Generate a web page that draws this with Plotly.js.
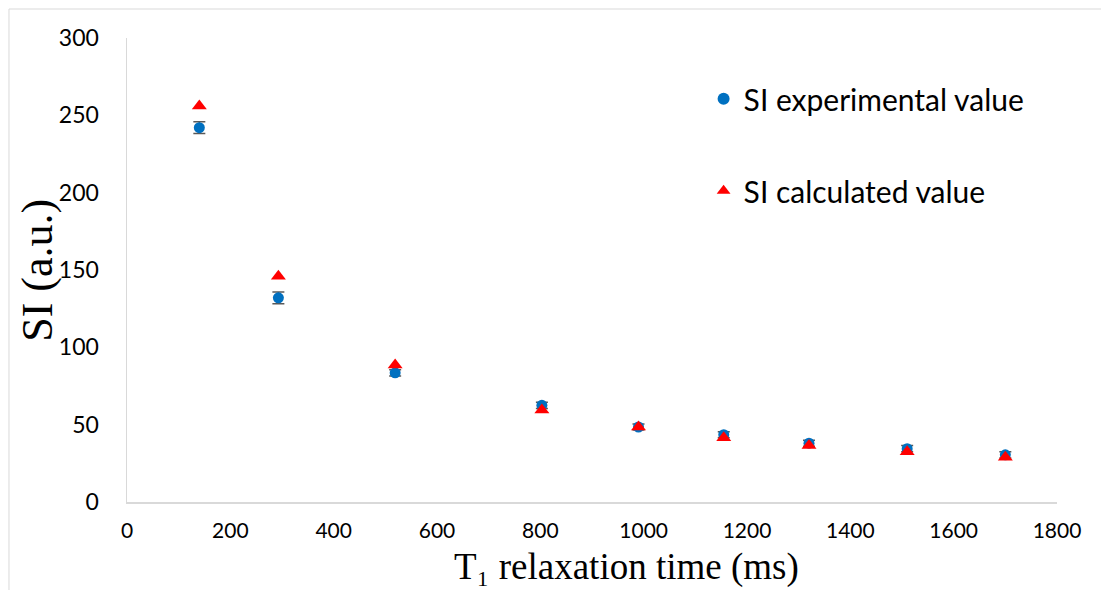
<!DOCTYPE html>
<html>
<head>
<meta charset="utf-8">
<script src="https://cdn.plot.ly/plotly-3.0.1.min.js"></script>
<style>html,body{margin:0;padding:0;background:#fff;}#chart{width:1101px;height:590px;}</style>
</head>
<body>
<div id="chart"></div>
<script>
// T1 relaxation time (ms)
var t1Values = [140, 293, 519, 803, 990, 1155, 1320, 1510, 1700];
// SI experimental value (a.u.)
var siExperimental = [242, 132, 83.5, 62.5, 48.5, 43.5, 38, 34.5, 30.5];
var siExperimentalErr = [3.8, 3.8, 2, 2, 2, 2, 2, 2, 2];
// SI calculated value (a.u.)
var siCalculated = [256, 146, 88.5, 59.5, 48.5, 41.5, 36.5, 32.5, 29];
var xTicks = [0, 200, 400, 600, 800, 1000, 1200, 1400, 1600, 1800];
var yTicks = [0, 50, 100, 150, 200, 250, 300];
var xTitle = 'T\u2081 relaxation time (ms)';
var yTitle = 'SI (a.u.)';

var traces = [
  {
    x: t1Values, y: siExperimental, type: 'scatter', mode: 'markers',
    name: 'SI experimental value', legendgroup: 'a',
    marker: {symbol: 'circle', size: 11, color: '#0070C0'},
    error_y: {type: 'data', array: siExperimentalErr, visible: true, color: '#595959', thickness: 1.5, width: 6}
  },
  {
    x: t1Values, y: siCalculated, type: 'scatter', mode: 'markers',
    name: 'SI calculated value', legendgroup: 'b',
    marker: {symbol: 'triangle-up', size: 13, color: '#FF0000'}
  }
];

var layout = {
  width: 1101, height: 590,
  margin: {l: 127, r: 44, t: 38, b: 88},
  paper_bgcolor: '#ffffff', plot_bgcolor: '#ffffff',
  showlegend: true,
  legend: {
    x: 0.62, y: 0.925, xanchor: 'left', yanchor: 'top',
    font: {family: 'Lato, sans-serif', size: 30, color: '#000'},
    tracegroupgap: 50, itemsizing: 'constant', bgcolor: 'rgba(0,0,0,0)'
  },
  xaxis: {
    range: [0, 1800], tickvals: xTicks, ticktext: xTicks.map(String),
    showgrid: false, zeroline: false, showline: true, linecolor: '#d9d9d9', linewidth: 1.5,
    ticks: '', ticklabelstandoff: 9, tickfont: {family: 'Lato, sans-serif', size: 21, color: '#000'},
    automargin: false
  },
  yaxis: {
    range: [0, 300], tickvals: yTicks, ticktext: yTicks.map(String),
    showgrid: false, zeroline: false, showline: true, linecolor: '#d9d9d9', linewidth: 1.5,
    ticks: '', ticklabelstandoff: 22, tickfont: {family: 'Lato, sans-serif', size: 23, color: '#000'},
    automargin: false
  },
  annotations: [
    {text: xTitle, xref: 'paper', yref: 'paper', x: 0.5376, y: -0.1897, xanchor: 'center', yanchor: 'bottom',
     showarrow: false, font: {family: 'Liberation Serif, Times New Roman, serif', size: 37, color: '#000'}},
    {text: yTitle, xref: 'paper', yref: 'paper', x: -0.097, y: 0.5, xanchor: 'center', yanchor: 'middle',
     textangle: -90, showarrow: false, font: {family: 'Liberation Serif, Times New Roman, serif', size: 44, color: '#000'}}
  ],
  shapes: [
    {type: 'rect', xref: 'paper', yref: 'paper', x0: -0.1269, x1: 1.2, y0: -0.4, y1: 1.0625,
     line: {color: '#d9d9d9', width: 1}, fillcolor: 'rgba(0,0,0,0)', layer: 'below'}
  ]
};

Plotly.newPlot('chart', traces, layout, {displayModeBar: false, staticPlot: true});
</script>
</body>
</html>
